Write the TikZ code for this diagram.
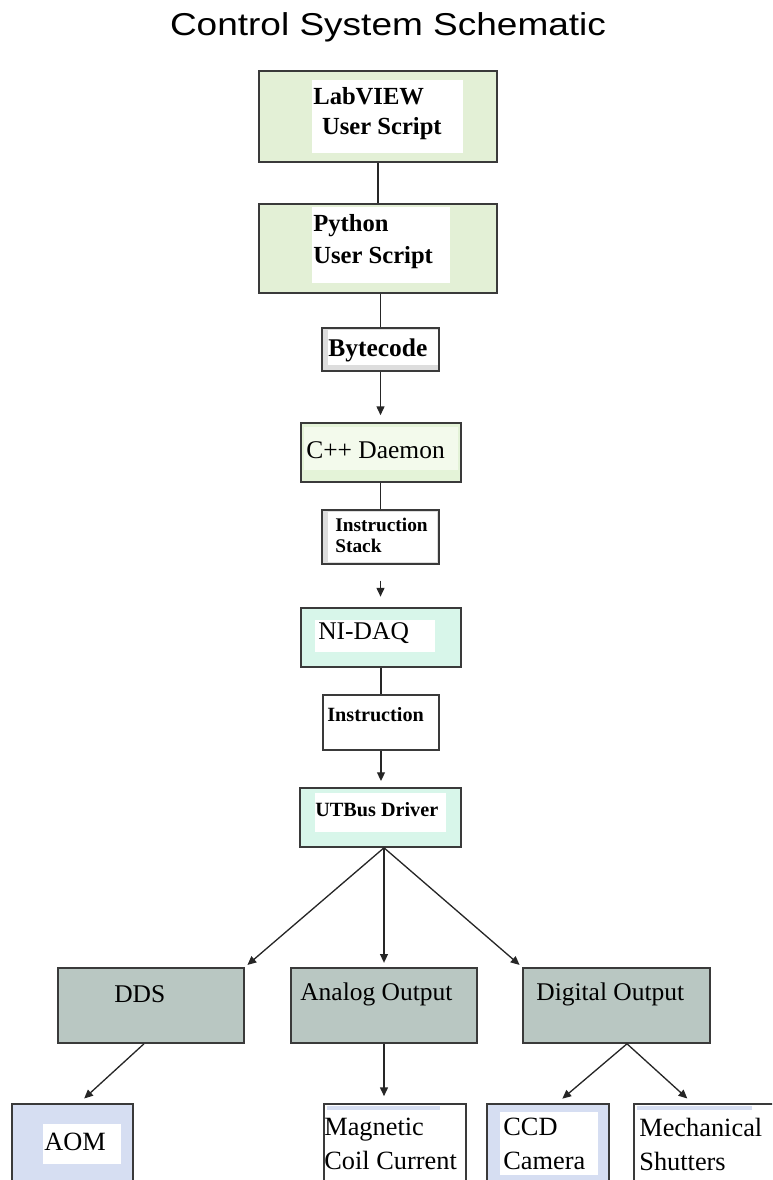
\documentclass[tikz,border=0pt]{standalone}
\usepackage{graphicx}
\usepackage{fontspec}
\setmainfont{Liberation Serif}
\newfontfamily\titlefont{Liberation Sans}
\usepackage{tikz}
\usetikzlibrary{calc, positioning, arrows.meta}
\usepackage{xcolor}
\definecolor{labgreen}{HTML}{E3F0D6}
\definecolor{cppgreen}{HTML}{E4F3D8}
\definecolor{cpplight}{HTML}{F3FAEC}
\definecolor{daqmint}{HTML}{D8F6EA}
\definecolor{ioslate}{HTML}{B9C7C2}
\definecolor{devblue}{HTML}{D6DEF2}
\definecolor{codegray}{HTML}{DDDDDD}
\definecolor{boxline}{HTML}{3A3A3A}

\begin{document}
\begin{tikzpicture}[x=0.02cm, y=-0.02cm, >={Triangle[length=5pt, width=4.5pt]},
  box/.style={draw=boxline, line width=0.9pt, inner sep=0pt},
  txt/.style={inner sep=0pt, align=left, text=black},
  big/.style={font=\fontsize{14.5}{17}\selectfont},
  bigbold/.style={font=\fontsize{14.5}{17}\selectfont\bfseries},
  link/.style={draw=black!85, line width=0.75pt}]
  \useasboundingbox (0,0) rectangle (772,1180);
  \clip (0,0) rectangle (772,1180);

  \node[txt, anchor=base, font=\titlefont\fontsize{18}{20}\selectfont] (title) at (388,35)
    {\scalebox{1.17}[1]{Control System Schematic}};

  % software side
  \node[box, fill=labgreen, minimum width=4.76cm, minimum height=1.82cm] (lab) at (378,116.5) {};
  \node[box, fill=labgreen, minimum width=4.76cm, minimum height=1.78cm] (py) at (378,248.5) {};
  \node[box, fill=codegray, minimum width=2.34cm, minimum height=0.86cm] (byte) at (380.5,349.5) {};
  \node[box, fill=cppgreen, minimum width=3.2cm, minimum height=1.18cm] (cpp) at (381,452.5) {};
  \node[box, fill=codegray, minimum width=2.34cm, minimum height=1.08cm] (stack) at (380.5,537) {};

  % hardware side
  \node[box, fill=daqmint, minimum width=3.2cm, minimum height=1.18cm] (nidaq) at (381,637.5) {};
  \node[box, fill=white, minimum width=2.32cm, minimum height=1.1cm] (instr) at (381,722.5) {};
  \node[box, fill=daqmint, minimum width=3.22cm, minimum height=1.18cm] (utbus) at (380.5,817.5) {};

  % output cards
  \node[box, fill=ioslate, minimum width=3.72cm, minimum height=1.5cm] (dds) at (151,1005.5) {};
  \node[box, fill=ioslate, minimum width=3.72cm, minimum height=1.5cm] (ana) at (384,1005.5) {};
  \node[box, fill=ioslate, minimum width=3.74cm, minimum height=1.5cm] (dig) at (616.5,1005.5) {};

  % devices
  \node[box, fill=devblue, minimum width=2.42cm, minimum height=1.62cm] (aom) at (72.5,1144.5) {};
  \node[box, fill=white, minimum width=2.84cm, minimum height=1.62cm] (mag) at (395,1144.5) {};
  \node[box, fill=devblue, minimum width=2.44cm, minimum height=1.62cm] (ccd) at (548,1144.5) {};
  \node[box, fill=white, minimum width=2.82cm, minimum height=1.62cm] (mech) at (704.5,1144.5) {};

  % white text patches
  \fill[white] (312,80) rectangle (463,153);
  \fill[white] (312,207) rectangle (450,283);
  \fill[white] (328,330) rectangle (438,365);
  \fill[cpplight] (304,427) rectangle (458,470);
  \fill[white] (328,512) rectangle (437,562);
  \fill[white] (315,620) rectangle (435,652);
  \fill[white] (315,793) rectangle (446,832);
  \fill[white] (43,1124) rectangle (121,1164);
  \fill[white] (500,1112) rectangle (598,1175);
  \fill[devblue] (327,1106) rectangle (440,1110);
  \fill[devblue] (637,1106) rectangle (752,1110);

  % labels
  \node[txt, anchor=north west, font=\fontsize{14}{17}\selectfont\bfseries] (labT) at (313,87)
    {LabVIEW\\\hspace*{5pt}User Script};
  \node[txt, anchor=north west, font=\fontsize{14}{18}\selectfont\bfseries] (pyT) at (313,214)
    {Python\\User Script};
  \node[txt, anchor=west, bigbold] (byteT) at (328,350) {Bytecode};
  \node[txt, anchor=west, big] (cppT) at (306,450) {C++ Daemon};
  \node[txt, anchor=north west, font=\fontsize{11}{12}\selectfont\bfseries] (stackT) at (335,518)
    {Instruction\\Stack};
  \node[txt, anchor=west, big] (nidaqT) at (318,633) {NI-DAQ};
  \node[txt, anchor=west, font=\fontsize{11.5}{13}\selectfont\bfseries] (instrT) at (327,715) {Instruction};
  \node[txt, anchor=west, font=\fontsize{11.5}{13}\selectfont\bfseries] (utbusT) at (315,810) {UTBus Driver};
  \node[txt, anchor=west, big] (ddsT) at (114,994) {DDS};
  \node[txt, anchor=west, big] (anaT) at (300,994) {Analog Output};
  \node[txt, anchor=west, big] (digT) at (536,994) {Digital Output};
  \node[txt, anchor=west, font=\fontsize{15}{19}\selectfont] (aomT) at (44,1142) {AOM};
  \node[txt, anchor=north west, font=\fontsize{15}{19.3}\selectfont] (magT) at (324,1118)
    {Magnetic\\Coil Current};
  \node[txt, anchor=north west, font=\fontsize{15}{19.3}\selectfont] (ccdT) at (503,1118)
    {CCD\\Camera};
  \node[txt, anchor=north west, font=\fontsize{15}{19.3}\selectfont] (mechT) at (639,1118)
    {Mechanical\\Shutters};

  % connectors
  \draw[link] (lab) -- (py);
  \draw[link] (py.south -| byte.north) -- (byte.north);
  \draw[link, ->, shorten >=4pt] (byte.south) -- (cpp.north -| byte.south);
  \draw[link] (cpp.south -| stack.north) -- (stack.north);
  \draw[link, ->, shorten <=9pt, shorten >=6pt] (stack.south) -- (nidaq.north -| stack.south);
  \draw[link] (nidaq.south -| instr.north) -- (instr.north);
  \draw[link, ->, shorten >=3.5pt] (instr.south) -- (utbus.north -| instr.south);

  \coordinate (fork) at ($(utbus.south)+(3.5,0)$);
  \draw[link, ->, shorten >=2pt] (fork) -- (dds.north east);
  \draw[link, ->, shorten >=2.5pt] (fork) -- (fork |- ana.north);
  \draw[link, ->, shorten >=2pt] (fork) -- (dig.north west);

  \coordinate (ddsout) at ($(dds.south)+(-7,0)$);
  \coordinate (digout) at ($(dig.south)+(10.5,0)$);
  \draw[link, ->, shorten >=4pt] (ddsout) -- ($(aom.north)+(6.5,0)$);
  \draw[link, ->, shorten >=4pt] (ana.south) -- (ana.south |- mag.north);
  \draw[link, ->, shorten >=4pt] (digout) -- ($(ccd.north)+(9,0)$);
  \draw[link, ->, shorten >=4pt] (digout) -- ($(mech.north)+(-12,0)$);
\end{tikzpicture}
\end{document}
